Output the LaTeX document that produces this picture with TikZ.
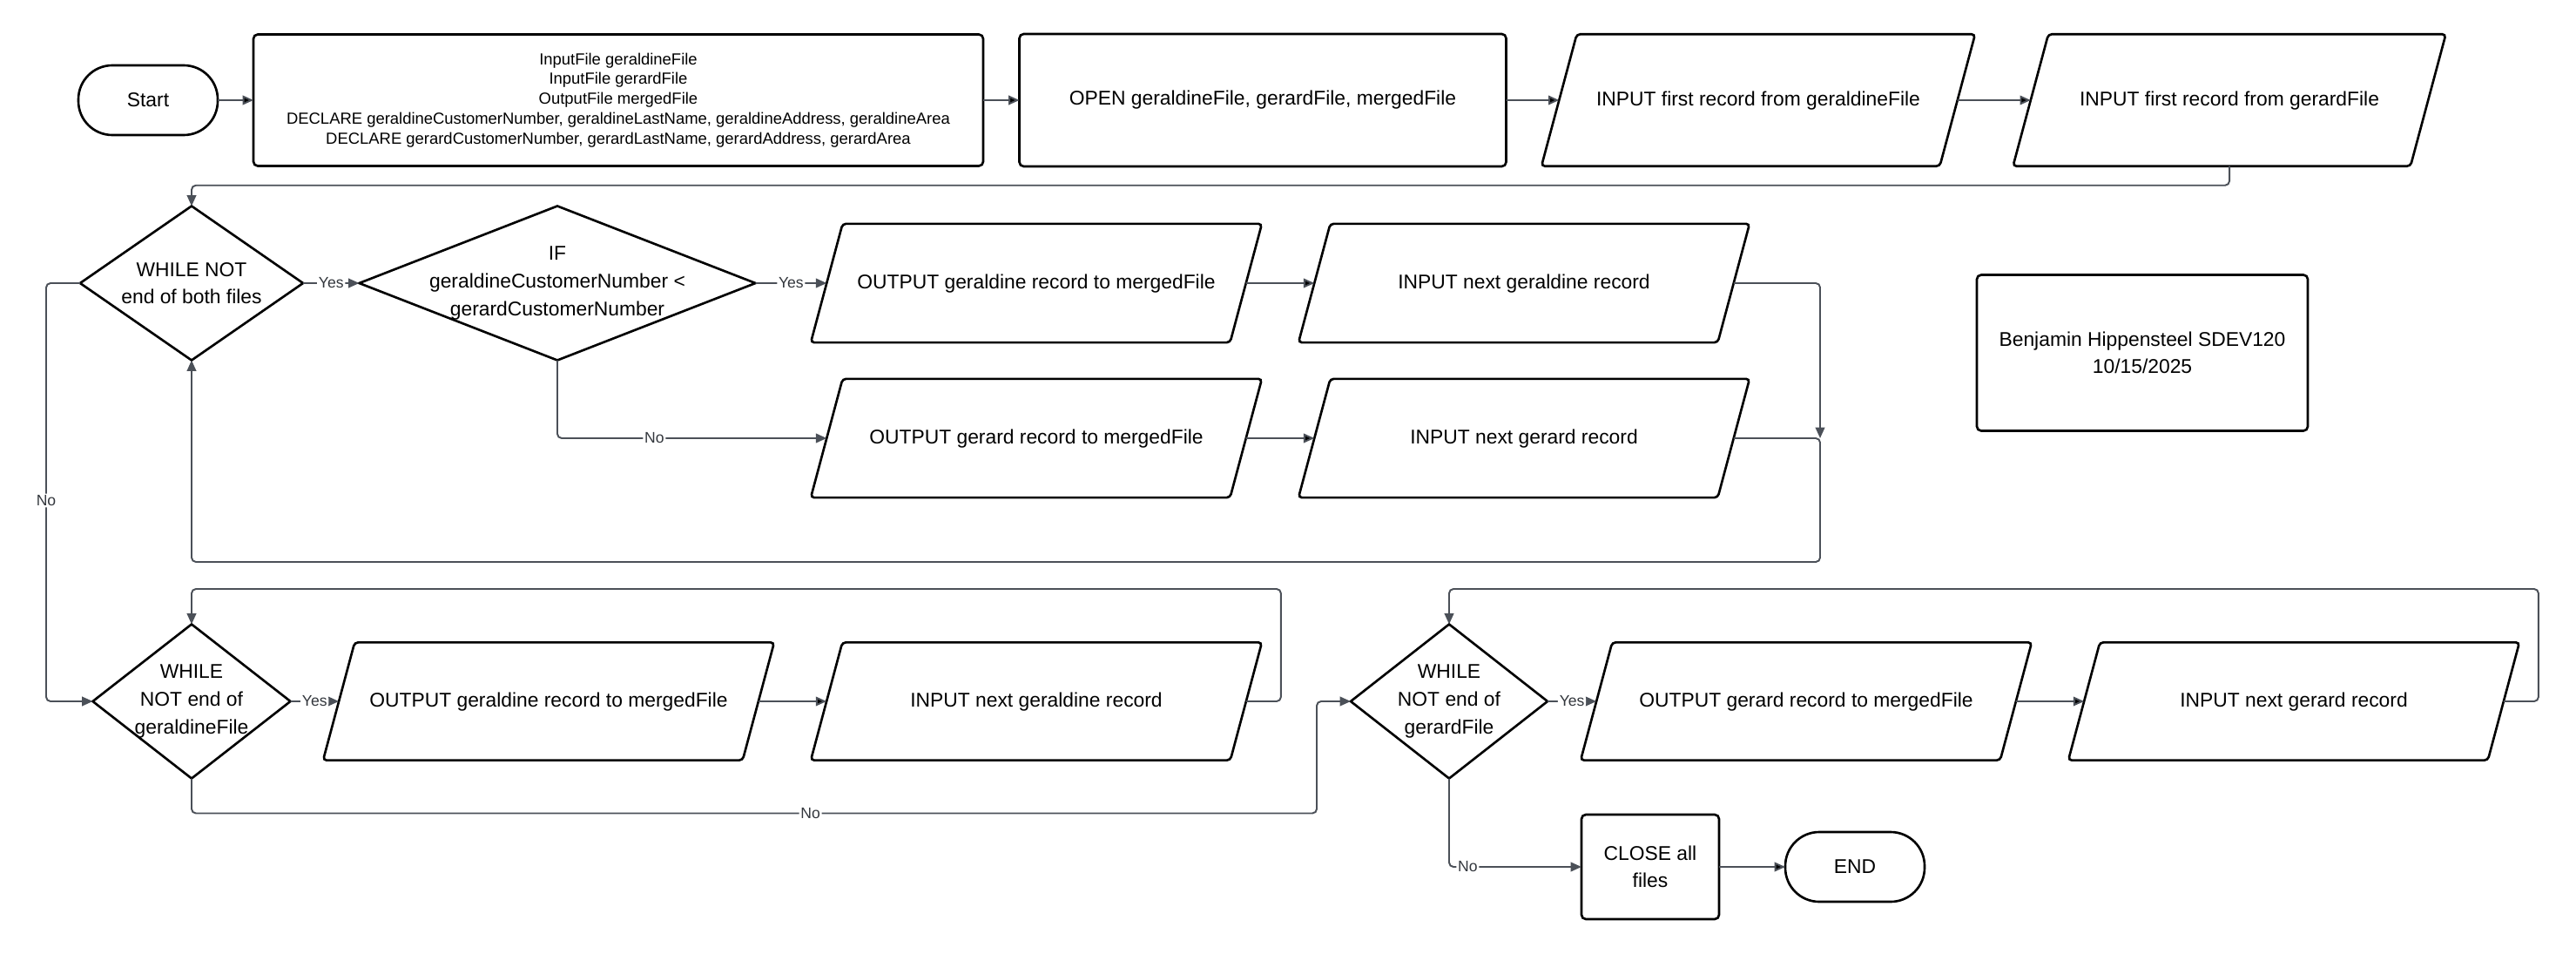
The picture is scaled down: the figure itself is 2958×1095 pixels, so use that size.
\documentclass[tikz,border=0pt]{standalone}
\usepackage{fontspec}
\setmainfont{Liberation Sans}
\usetikzlibrary{arrows.meta,shapes.geometric,positioning}
\newlength{\upx}\setlength{\upx}{0.02cm}
\definecolor{wire}{HTML}{4B5058}
\definecolor{lbltext}{HTML}{33373D}
\begin{document}
\begin{tikzpicture}[x=\upx,y=-\upx,
    font=\fontsize{13}{18}\selectfont,
    >={Triangle[length=7pt,width=6pt]},
    base/.style={draw=black,line width=1.5pt,align=center,inner sep=2pt,outer sep=0pt},
    term/.style={base,rectangle,rounded corners=39\upx,minimum width=160\upx,minimum height=80\upx},
    proc/.style={base,rectangle,rounded corners=5\upx},
    io/.style={base,trapezium,trapezium left angle=75,trapezium right angle=105,
        trapezium stretches body=true,rounded corners=4\upx,minimum width=518\upx,
        inner ysep=29.8pt,execute at begin node=\strut},
    dec/.style={base,diamond,minimum height=177\upx,inner sep=0pt},
    line/.style={draw=wire,line width=1.1pt,rounded corners=5\upx},
    lbl/.style={fill=white,inner sep=1pt,text=lbltext,font=\fontsize{10}{12}\selectfont}]
    \useasboundingbox[fill=white] (0,0) rectangle (2958,1095);

    % top row
    \node[term] (start) at (170,115) {Start};
    \node[proc,minimum width=838\upx,minimum height=151\upx,font=\fontsize{10.5}{13}\selectfont] (decl) at (710,115)
        {InputFile geraldineFile\\InputFile gerardFile\\OutputFile mergedFile\\
         DECLARE geraldineCustomerNumber, geraldineLastName, geraldineAddress, geraldineArea\\
         DECLARE gerardCustomerNumber, gerardLastName, gerardAddress, gerardArea};
    \node[proc,minimum width=559\upx,minimum height=152\upx] (open) at (1450,115) {OPEN geraldineFile, gerardFile, mergedFile};
    \node[io,minimum width=498\upx,inner ysep=34.1pt] (firstgl) at (2019,115) {INPUT first record from geraldineFile};
    \node[io,minimum width=497\upx,inner ysep=34.1pt] (firstgr) at (2560,115) {INPUT first record from gerardFile};

    % merge loop
    \node[dec,minimum width=256\upx,label={[align=center]center:WHILE NOT\\end of both files}] (whboth) at (220,325) {};
    \node[dec,minimum width=455\upx,label={[align=center]center:IF\\geraldineCustomerNumber <\\gerardCustomerNumber}] (ifless) at (640,325) {};
    \node[io] (outgl) at (1190,325) {OUTPUT geraldine record to mergedFile};
    \node[io] (nextgl) at (1750,325) {INPUT next geraldine record};
    \node[io] (outgr) at (1190,503) {OUTPUT gerard record to mergedFile};
    \node[io] (nextgr) at (1750,503) {INPUT next gerard record};
    \node[proc,minimum width=380\upx,minimum height=179\upx] (author) at (2460,405) {Benjamin Hippensteel SDEV120\\10/15/2025};
    \coordinate (merge) at (2090,503);

    % leftover records
    \node[dec,minimum width=227\upx,label={[align=center]center:WHILE\\NOT end of\\geraldineFile}] (whgl) at (220,805) {};
    \node[io,inner ysep=29.5pt] (restgl) at (630,805) {OUTPUT geraldine record to mergedFile};
    \node[io,inner ysep=29.5pt] (morgl) at (1190,805) {INPUT next geraldine record};
    \node[dec,minimum width=226\upx,label={[align=center]center:WHILE\\NOT end of\\gerardFile}] (whgr) at (1664,805) {};
    \node[io,inner ysep=29.5pt] (restgr) at (2074,805) {OUTPUT gerard record to mergedFile};
    \node[io,inner ysep=29.5pt] (morgr) at (2634,805) {INPUT next gerard record};
    \node[proc,minimum width=158\upx,minimum height=120\upx] (close) at (1895,995) {CLOSE all\\files};
    \node[term] (end) at (2130,995) {END};

    \path[line,->]
        (start) edge (decl)
        (decl) edge (open)
        (open) edge (firstgl)
        (firstgl) edge (firstgr)
        (outgl) edge (nextgl)
        (outgr) edge (nextgr)
        (restgl) edge (morgl)
        (restgr) edge (morgr)
        (close) edge (end);
    \draw[line,->] (firstgr.south) -- ++(0,22) -| (whboth.north);
    \draw[line,->] (whboth) -- node[lbl]{Yes} (ifless);
    \draw[line,->] (ifless) -- node[lbl]{Yes} (outgl);
    \draw[line,->] (ifless.south) |- node[lbl,pos=0.68]{No} (outgr.west);
    \draw[line,->] (nextgl.east) -| (merge);
    \draw[line,->] (nextgr.east) -- (merge) -- ++(0,142) -| (whboth.south);
    \draw[line,->] (whboth.west) -- ++(-39,0) |- node[lbl,pos=0.26]{No} (whgl.west);
    \draw[line,->] (whgl) -- node[lbl]{Yes} (restgl);
    \draw[line,->] (morgl.east) -- ++(40,0) -- ++(0,-129) -| (whgl.north);
    \draw[line,->] (whgl.south) -- ++(0,40) -- node[lbl,pos=0.55]{No} ++(1292,0) |- (whgr.west);
    \draw[line,->] (whgr) -- node[lbl]{Yes} (restgr);
    \draw[line,->] (morgr.east) -- ++(40,0) -- ++(0,-129) -| (whgr.north);
    \draw[line,->] (whgr.south) |- node[lbl,pos=0.57]{No} (close.west);
\end{tikzpicture}
\end{document}
